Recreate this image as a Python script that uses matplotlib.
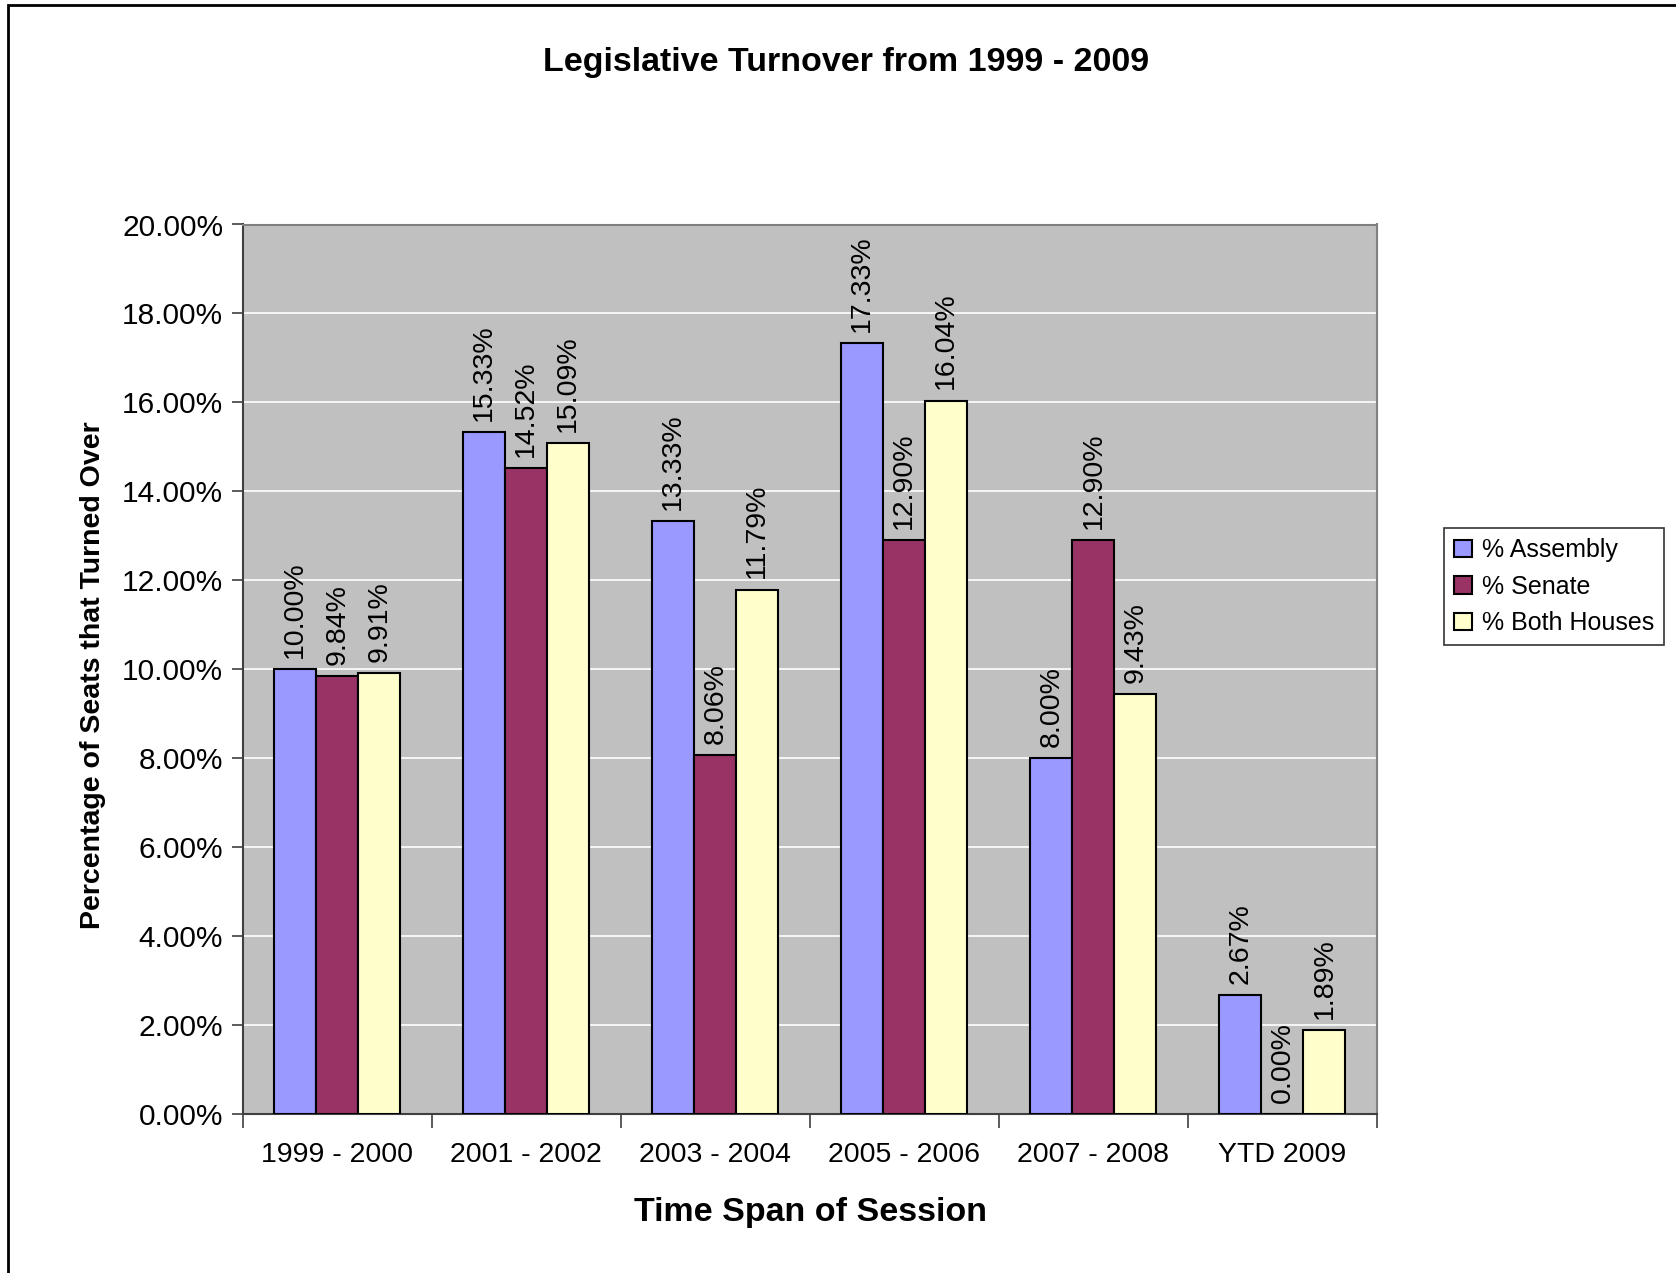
import matplotlib.pyplot as plt
import numpy as np
from matplotlib.patches import Rectangle

plt.rcParams['font.family'] = ['Liberation Sans', 'DejaVu Sans']

# chart data
sessions = ['1999 - 2000', '2001 - 2002', '2003 - 2004', '2005 - 2006', '2007 - 2008', 'YTD 2009']
assembly = [10.00, 15.33, 13.33, 17.33, 8.00, 2.67]
senate = [9.84, 14.52, 8.06, 12.90, 12.90, 0.00]
both_houses = [9.91, 15.09, 11.79, 16.04, 9.43, 1.89]
series_names = ['% Assembly', '% Senate', '% Both Houses']
colors = ['#9999FF', '#993366', '#FFFFCC']

W, H = 1676, 1273
fig = plt.figure(figsize=(W / 100, H / 100), dpi=100)
ax = fig.add_axes([242.6 / W, 1 - 1113.8 / H, (1377 - 242.6) / W, (1113.8 - 224.5) / H])

# outer frame (only left/top visible in the reference)
fig.patches.append(Rectangle((8 / W, -0.1), 1.2, 1 - 5 / H + 0.1, transform=fig.transFigure,
                             fill=False, edgecolor='black', linewidth=2))

x = np.arange(len(sessions))
width = 1 / 4.5
for i, (vals, name, c) in enumerate(zip([assembly, senate, both_houses], series_names, colors)):
    pos = x + (i - 1) * width
    bars = ax.bar(pos, vals, width, color=c, edgecolor='black', linewidth=1.5, label=name, zorder=3)
    for b, v in zip(bars, vals):
        ax.text(b.get_x() + b.get_width() / 2, v + 0.25, '%.2f%%' % v, rotation=90,
                ha='center', va='bottom', fontsize=20.5, zorder=4)

ax.set_facecolor('#C0C0C0')
ax.set_xlim(-0.5, len(sessions) - 0.5)
ax.set_ylim(0, 20)
ax.set_yticks(np.arange(0, 20.01, 2))
ax.set_yticklabels(['%.2f%%' % t for t in np.arange(0, 20.01, 2)], fontsize=21.5)
ax.yaxis.grid(True, color='white', linewidth=1.2, zorder=0)
ax.set_axisbelow(True)

ax.set_xticks(x)
ax.set_xticklabels(sessions, fontsize=20.5)
ax.tick_params(axis='x', length=0, pad=20)
ax.set_xticks(np.arange(-0.5, len(sessions)), minor=True)
ax.tick_params(axis='x', which='minor', length=10, color='#404040', width=1.2)
ax.tick_params(axis='y', length=8, color='#404040', width=1.2, pad=6)

for s in ['left', 'bottom']:
    ax.spines[s].set_color('#404040')
    ax.spines[s].set_linewidth(1.5)
for s in ['top', 'right']:
    ax.spines[s].set_color('#808080')
    ax.spines[s].set_linewidth(1.5)

fig.text(0.505, 1 - 63 / H, 'Legislative Turnover from 1999 - 2009', ha='center', va='center',
         fontsize=24.5, fontweight='bold')
fig.text(810 / W, 1 - 1213 / H, 'Time Span of Session', ha='center', va='center',
         fontsize=24.5, fontweight='bold')
fig.text(93 / W, 1 - 675 / H, 'Percentage of Seats that Turned Over', ha='center', va='center',
         rotation=90, fontsize=20.5, fontweight='bold')

leg = fig.legend(loc='center', bbox_to_anchor=(1554 / W, 1 - 587 / H), fontsize=18,
                 frameon=True, fancybox=False, edgecolor='black', handlelength=0.7,
                 handleheight=0.7, handletextpad=0.4, borderpad=0.4, labelspacing=0.5)
leg.get_frame().set_linewidth(1.2)

fig.savefig('out.png', dpi=100)
